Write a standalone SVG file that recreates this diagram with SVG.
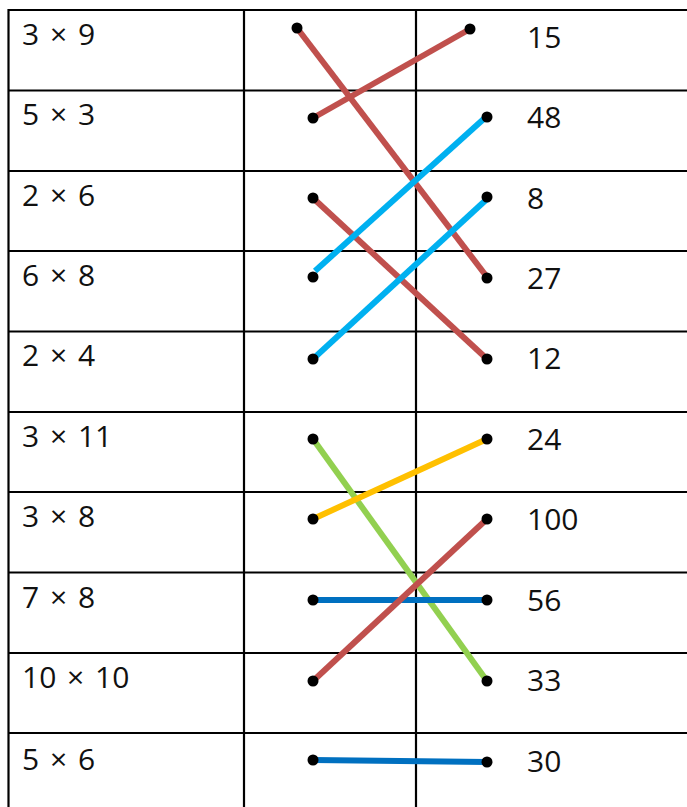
<svg xmlns="http://www.w3.org/2000/svg" width="687" height="807" viewBox="0 0 687 807">
<style>
.grid{stroke:#000;stroke-width:2.2;fill:none}
.t{font-family:"Open Sans","Liberation Sans",sans-serif;font-size:30px;fill:#111}
.lt{word-spacing:3px}
.dot{fill:#000}
.c{stroke-width:6;fill:none;stroke-linecap:butt}
.red{stroke:#C0504D}.cyan{stroke:#00B0F0}.green{stroke:#92D050}.yellow{stroke:#FFC000}.blue{stroke:#0070C0}
</style>
<rect width="687" height="807" fill="#fff"/>
<g id="table" class="grid">
<line x1="8.5" y1="10" x2="687" y2="10"/>
<line x1="8.5" y1="90.5" x2="687" y2="90.5"/>
<line x1="8.5" y1="171" x2="687" y2="171"/>
<line x1="8.5" y1="251" x2="687" y2="251"/>
<line x1="8.5" y1="331.5" x2="687" y2="331.5"/>
<line x1="8.5" y1="412" x2="687" y2="412"/>
<line x1="8.5" y1="492" x2="687" y2="492"/>
<line x1="8.5" y1="572.5" x2="687" y2="572.5"/>
<line x1="8.5" y1="653" x2="687" y2="653"/>
<line x1="8.5" y1="733" x2="687" y2="733"/>
<line x1="8.5" y1="9" x2="8.5" y2="807"/>
<line x1="244" y1="9" x2="244" y2="807"/>
<line x1="416" y1="9" x2="416" y2="807"/>
</g>
<g id="left-labels" class="t lt">
<text x="22" y="45">3 × 9</text>
<text x="22" y="125">5 × 3</text>
<text x="22" y="206">2 × 6</text>
<text x="22" y="286">6 × 8</text>
<text x="22" y="366">2 × 4</text>
<text x="22" y="447">3 × 11</text>
<text x="22" y="527">3 × 8</text>
<text x="22" y="608">7 × 8</text>
<text x="22" y="688">10 × 10</text>
<text x="22" y="770">5 × 6</text>
</g>
<g id="right-labels" class="t">
<text x="527" y="48">15</text>
<text x="527" y="128">48</text>
<text x="527" y="209">8</text>
<text x="527" y="289">27</text>
<text x="527" y="369">12</text>
<text x="527" y="450">24</text>
<text x="527" y="530">100</text>
<text x="527" y="611">56</text>
<text x="527" y="691">33</text>
<text x="527" y="772">30</text>
</g>
<g id="connectors">
<line class="c red" x1="297" y1="28" x2="487" y2="277"/>
<line class="c red" x1="313" y1="118" x2="470" y2="29"/>
<line class="c red" x1="313" y1="198" x2="487" y2="359"/>
<line class="c cyan" x1="315" y1="271" x2="487" y2="116"/>
<line class="c cyan" x1="313" y1="359" x2="487" y2="199"/>
<line class="c green" x1="313" y1="439" x2="487" y2="681"/>
<line class="c yellow" x1="313" y1="519" x2="487" y2="439"/>
<line class="c blue" x1="313" y1="600" x2="487" y2="600"/>
<line class="c red" x1="313" y1="681" x2="487" y2="519"/>
<line class="c blue" x1="313" y1="760" x2="487" y2="762"/>
</g>
<g id="dots" class="dot">
<circle cx="297" cy="28" r="5.5"/><circle cx="470" cy="29" r="5.5"/>
<circle cx="313" cy="118" r="5.5"/><circle cx="487" cy="117" r="5.5"/>
<circle cx="313" cy="198" r="5.5"/><circle cx="487" cy="197" r="5.5"/>
<circle cx="313" cy="277" r="5.5"/><circle cx="487" cy="278" r="5.5"/>
<circle cx="313" cy="359" r="5.5"/><circle cx="487" cy="359" r="5.5"/>
<circle cx="313" cy="439" r="5.5"/><circle cx="487" cy="439" r="5.5"/>
<circle cx="313" cy="519" r="5.5"/><circle cx="487" cy="519" r="5.5"/>
<circle cx="313" cy="600" r="5.5"/><circle cx="487" cy="600" r="5.5"/>
<circle cx="313" cy="681" r="5.5"/><circle cx="487" cy="681" r="5.5"/>
<circle cx="313" cy="760" r="5.5"/><circle cx="487" cy="762" r="5.5"/>
</g>
</svg>
